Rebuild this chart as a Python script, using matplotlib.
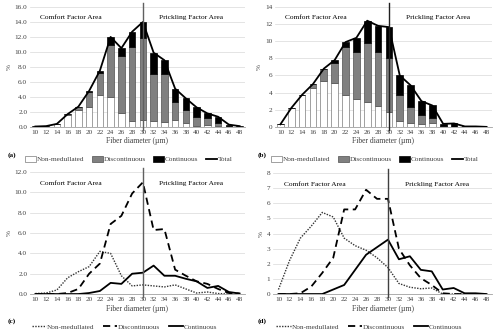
import matplotlib
matplotlib.use("Agg")
import matplotlib.pyplot as plt
import numpy as np

plt.rcParams['font.family'] = ['Liberation Serif', 'DejaVu Serif']

diam = [10, 12, 14, 16, 18, 20, 22, 24, 26, 28, 30, 32, 34, 36, 38, 40, 42, 44, 46, 48]

a_nonmed = [0.05, 0.1, 0.4, 1.6, 2.2, 2.7, 4.2, 4.0, 1.8, 0.8, 0.9, 0.8, 0.7, 0.9, 0.5, 0.1, 0.2, 0.05, 0.0, 0.0]
a_disc = [0.0, 0.0, 0.0, 0.1, 0.5, 2.0, 3.0, 6.9, 7.7, 9.9, 11.0, 6.3, 6.4, 2.4, 1.8, 1.25, 1.0, 0.5, 0.1, 0.05]
a_cont = [0.0, 0.0, 0.0, 0.0, 0.0, 0.1, 0.3, 1.1, 1.0, 2.0, 2.1, 2.8, 1.8, 1.8, 1.5, 1.25, 0.6, 0.8, 0.2, 0.05]

b_nonmed = [0.3, 2.2, 3.7, 4.5, 5.4, 5.1, 3.7, 3.2, 2.9, 2.4, 1.75, 0.7, 0.45, 0.35, 0.4, 0.0, 0.0, 0.0, 0.0, 0.0]
b_disc = [0.0, 0.0, 0.05, 0.5, 1.4, 2.4, 5.6, 5.6, 6.9, 6.3, 6.3, 3.0, 1.9, 1.05, 0.6, 0.05, 0.0, 0.0, 0.0, 0.0]
b_cont = [0.0, 0.0, 0.0, 0.0, 0.0, 0.3, 0.6, 1.6, 2.6, 3.1, 3.6, 2.3, 2.5, 1.6, 1.5, 0.3, 0.4, 0.05, 0.05, 0.0]

FS = 5.2
TICKC = '#404040'
GRID = '#d9d9d9'

fig = plt.figure(figsize=(5.0, 3.33), dpi=100)

def style(ax, ymax, ystep, fmt, vcol):
    x = np.arange(len(diam))
    ax.set_xlim(-0.5, len(diam) - 0.5)
    ax.set_ylim(0, ymax)
    ax.set_xticks(x)
    ax.set_xticklabels([str(d) for d in diam])
    yt = np.arange(0, ymax + 0.001, ystep)
    ax.set_yticks(yt)
    ax.set_yticklabels([fmt % v for v in yt])
    ax.tick_params(length=0, labelsize=FS, colors=TICKC, pad=2)
    for s in ['top', 'right', 'left']:
        ax.spines[s].set_visible(False)
    ax.spines['bottom'].set_color('#a0a0a0')
    ax.spines['bottom'].set_linewidth(0.6)
    ax.yaxis.grid(True, color=GRID, lw=0.5)
    ax.set_axisbelow(True)
    ax.set_xlabel('Fiber diameter (µm)', fontsize=FS + 0.3, color=TICKC, labelpad=2)
    ax.set_ylabel('%', fontsize=FS, color=TICKC, labelpad=2)
    ax.text(0.19, 0.91, 'Comfort Factor Area', transform=ax.transAxes, fontsize=FS + 0.1, ha='center', va='center')
    ax.text(0.75, 0.91, 'Prickling Factor Area', transform=ax.transAxes, fontsize=FS + 0.1, ha='center', va='center')
    trans = ax.get_xaxis_transform()
    ax.plot([diam.index(30), diam.index(30)], [-0.025, 1.035], transform=trans, color=vcol, lw=1.0, clip_on=False, zorder=5)

def bars(ax, nonmed, disc, cont):
    x = np.arange(len(diam))
    nm = np.array(nonmed); ds = np.array(disc); ct = np.array(cont)
    w = 0.62
    h1 = ax.bar(x, nm, w, color='white', edgecolor='#7a7a7a', lw=0.5, label='Non-medullated', zorder=2)
    h2 = ax.bar(x, ds, w, bottom=nm, color='#808080', edgecolor='#505050', lw=0.5, label='Discontinuous', zorder=2)
    h3 = ax.bar(x, ct, w, bottom=nm + ds, color='black', edgecolor='black', lw=0.5, label='Continuous', zorder=2)
    h4, = ax.plot(x, nm + ds + ct, color='black', lw=1.3, label='Total', zorder=3)
    ax.legend(handles=[h1, h2, h3, h4], loc='upper center', bbox_to_anchor=(0.46, -0.19), ncol=4, frameon=False,
              fontsize=FS, handlelength=1.5, handleheight=0.8, handletextpad=0.15, columnspacing=1.0,
              labelcolor=TICKC)

def lines(ax, nonmed, disc, cont):
    x = np.arange(len(diam))
    ax.plot(x, nonmed, color='#333333', lw=1.0, ls=(0, (1, 1)), label='Non-medullated', zorder=3)
    ax.plot(x, disc, color='black', lw=1.3, ls=(0, (4, 2.5)), label='Discontinuous', zorder=3)
    ax.plot(x, cont, color='black', lw=1.3, ls='-', label='Continuous', zorder=3)
    ax.legend(loc='upper center', bbox_to_anchor=(0.44, -0.19), ncol=3, frameon=False, fontsize=FS,
              handlelength=2.0, handletextpad=0.1, columnspacing=1.2, labelcolor=TICKC)

ax_a = fig.add_axes([0.06, 0.619, 0.43, 0.36])
bars(ax_a, a_nonmed, a_disc, a_cont)
style(ax_a, 16, 2, '%.1f', '#606060')

ax_b = fig.add_axes([0.55, 0.619, 0.434, 0.36])
bars(ax_b, b_nonmed, b_disc, b_cont)
style(ax_b, 14, 2, '%d', '#202020')

ax_c = fig.add_axes([0.06, 0.117, 0.43, 0.366])
lines(ax_c, a_nonmed, a_disc, a_cont)
style(ax_c, 12, 2, '%.1f', '#606060')

ax_d = fig.add_axes([0.546, 0.117, 0.438, 0.363])
lines(ax_d, b_nonmed, b_disc, b_cont)
style(ax_d, 8, 1, '%d', '#404040')

for lab, (xx, yy) in zip(['(a)', '(b)', '(c)', '(d)'], [(8, 155), (258, 155), (8, 321), (258, 321)]):
    fig.text(xx / 500, 1 - yy / 333, lab, fontsize=FS, fontweight='bold', ha='left', va='center')

fig.savefig('out.png', dpi=100)
